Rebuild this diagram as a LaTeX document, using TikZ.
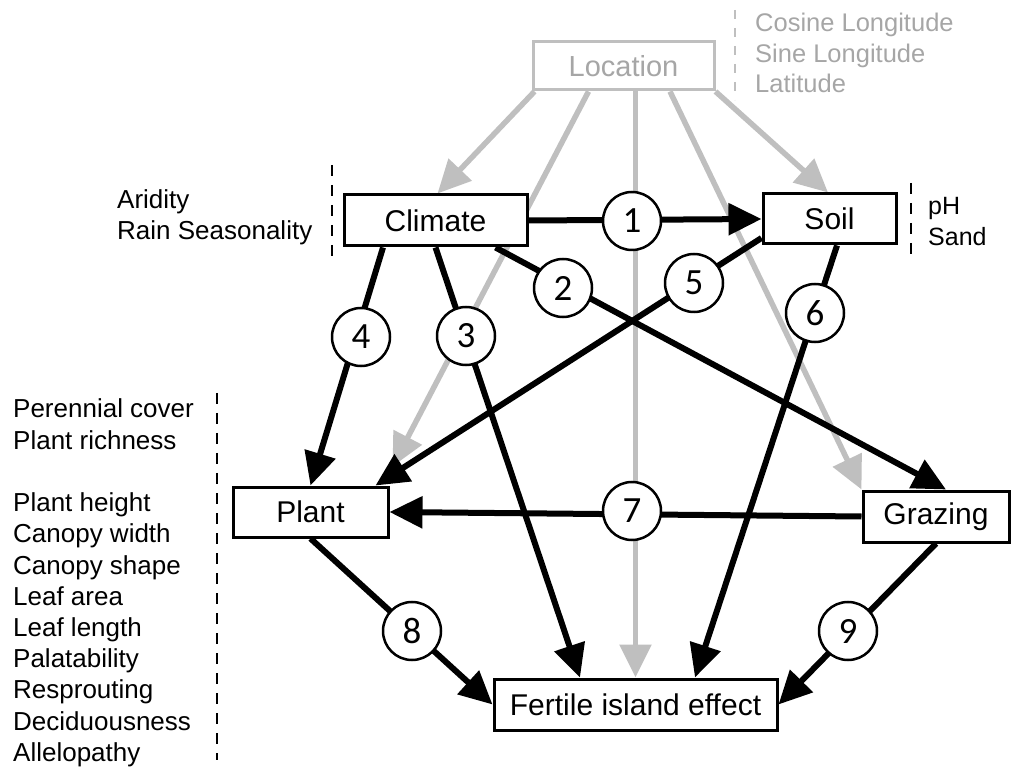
\documentclass[tikz,border=0pt]{standalone}
\usepackage{fontspec}
\setmainfont{Liberation Sans}
\newfontfamily\digitfont{Carlito}
\usetikzlibrary{arrows.meta,calc,backgrounds}
\definecolor{lgray}{RGB}{191,191,191}
\definecolor{tgray}{RGB}{166,166,166}
\begin{document}
\begin{tikzpicture}[x=1pt,y=-1pt,
  box/.style={draw,line width=3pt,fill=white,inner sep=0pt,font=\fontsize{30}{36}\selectfont},
  gbox/.style={box,draw=lgray,text=tgray},
  num/.style={circle,draw,line width=2.5pt,fill=white,inner sep=0pt,minimum size=58pt,font=\digitfont\fontsize{37}{40}\selectfont},
  side/.style={anchor=base west,inner sep=0pt,font=\fontsize{26}{31}\selectfont},
  tip/.style={-{Triangle[length=33pt,width=31pt]}},
  barr/.style={line width=6pt,tip},
  garr/.style={line width=5.5pt,draw=lgray,tip},
  sepline/.style={line width=2.5pt,dash pattern=on 11pt off 9pt},
]
\useasboundingbox (0,0) rectangle (1013,767);

% boxes
\node[gbox,minimum width=181pt,minimum height=48pt,font=\fontsize{29}{34}\selectfont] (loc) at (623.5,66) {Location};
\node[box,minimum width=183pt,minimum height=51pt] (cli) at (435.5,220.5) {Climate};
\node[box,minimum width=133pt,minimum height=50pt] (soil) at (829.5,219) {Soil};
\node[box,minimum width=155pt,minimum height=50pt] (plant) at (310.5,512) {Plant};
\node[box,minimum width=146pt,minimum height=51pt] (graz) at (936,516.5) {Grazing};
\node[box,minimum width=283pt,minimum height=51pt] (fert) at (635.5,704.5) {Fertile island effect};

% numbered circles
\node[num] (n1) at (632,221) {1};
\node[num] (n2) at (563,288) {2};
\node[num] (n3) at (466,336) {3};
\node[num] (n4) at (361,337) {4};
\node[num] (n5) at (694,283) {5};
\node[num] (n6) at (815,313) {6};
\node[num] (n7) at (632,511) {7};
\node[num] (n8) at (412,631) {8};
\node[num] (n9) at (848,631) {9};

\begin{pgfonlayer}{background}
% grey paths from Location
\draw[garr] ([xshift=3pt]loc.south west) -- ([xshift=2pt]cli.north);
\draw[garr] ([xshift=-35pt]loc.south) -- ([shift={(3,-19)}]plant.north east);
\draw[garr] (loc.south -| fert.north) -- (fert.north);
\draw[garr] ([xshift=46.5pt]loc.south) -- (graz.north west);
\draw[garr] (loc.south east) -- ([xshift=-1.5pt]soil.north);
% black paths
\draw[barr] (cli.east) -- (soil.west);
\draw[barr] ([xshift=60pt]cli.south) -- ([xshift=10pt]graz.north);
\draw[barr] (cli.south) -- ([xshift=-55.5pt]fert.north);
\draw[barr] ([xshift=-52.5pt]cli.south) -- (plant.north);
\draw[barr] ([shift={(0,19)}]soil.west) -- ([xshift=-14pt]plant.north east);
\draw[barr] ([xshift=7.5pt]soil.south) -- ([xshift=59.5pt]fert.north);
\draw[barr] (graz.west) -- (plant.east);
\draw[barr] (plant.south) -- (fert.west);
\draw[barr] (graz.south) -- (fert.east);
\end{pgfonlayer}

% dashed separators
\coordinate (sa1) at (217,393); \coordinate (sa2) at (217,760);
\coordinate (sb1) at (332,165); \coordinate (sb2) at (332,258);
\coordinate (sc1) at (911,183); \coordinate (sc2) at (911,259);
\coordinate (sd1) at (735,10);  \coordinate (sd2) at (735,100);
\draw[sepline] (sa1) -- (sa2);
\draw[sepline] (sb1) -- (sb2);
\draw[sepline] (sc1) -- (sc2);
\draw[sepline,draw=lgray,dash pattern=on 9pt off 9pt] (sd1) -- (sd2);

% side texts
\foreach \t/\yy [count=\i] in {Perennial cover/418,Plant richness/449.2,Plant height/511.6,Canopy width/542.8,Canopy shape/574,Leaf area/605.2,Leaf length/636.4,Palatability/667.6,Resprouting/698.8,Deciduousness/730,Allelopathy/761.2}
  \node[side] (pt\i) at (13,\yy) {\t};
\node[side] (ar) at (117,209) {Aridity};
\node[side] (rs) at (117,240) {Rain Seasonality};
\node[side,text=tgray,font=\fontsize{25.5}{30}\selectfont] (cl) at (755,32) {Cosine Longitude};
\node[side,text=tgray,font=\fontsize{25.5}{30}\selectfont] (sl) at (755,63) {Sine Longitude};
\node[side,text=tgray,font=\fontsize{25.5}{30}\selectfont] (la) at (755,93) {Latitude};
\node[side,font=\fontsize{25}{30}\selectfont] (ph) at (928,215) {pH};
\node[side,font=\fontsize{25}{30}\selectfont] (sd) at (928,246) {Sand};
\end{tikzpicture}
\end{document}
